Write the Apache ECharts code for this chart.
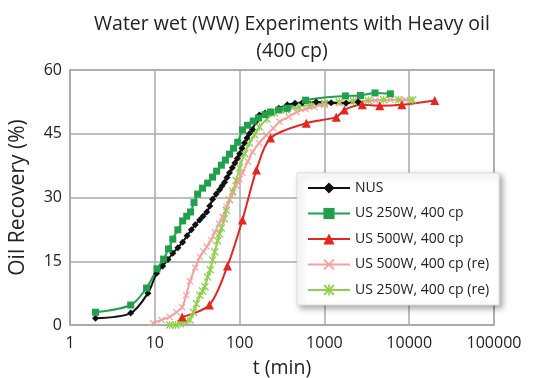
<!DOCTYPE html>
<html><head><meta charset="utf-8">
<script src="https://cdn.jsdelivr.net/npm/echarts@6/dist/echarts.min.js"></script>
<style>html,body{margin:0;padding:0;background:#fff}#c{width:538px;height:378px}</style>
</head><body><div id="c"></div>
<script>
const titleText = "Water wet (WW) Experiments with Heavy oil\n(400 cp)";
const xTicks = [1, 10, 100, 1000, 10000, 100000];
const yTicks = [0, 15, 30, 45, 60];
const seriesNames = ["NUS", "US 250W, 400 cp", "US 500W, 400 cp", "US 500W, 400 cp (re)", "US 250W, 400 cp (re)"];

const nusT = [2, 5.2, 8.3, 10.5, 12.4, 14.3, 16.3, 18.7, 21.3, 24, 27, 30, 33.8, 37, 41, 44.5, 48, 53, 58, 62, 66.5, 71, 76, 82, 88, 94, 100, 107, 114, 122, 130, 142, 155, 171, 200, 232, 290, 365, 450, 550, 800, 1200, 1800, 2500];
const nusV = [1.6, 2.8, 7.5, 12.2, 13.9, 15.4, 16.9, 18.2, 19.5, 21, 22.4, 23.6, 24.7, 25.6, 26.6, 28, 29.6, 30.8, 31.8, 32.7, 33.6, 34.7, 35.8, 37, 38.1, 39.2, 40.3, 41.6, 42.8, 44, 45, 46, 47.8, 49.4, 49.9, 50.2, 51, 51.8, 52.2, 52.3, 52.5, 52.3, 52.2, 52.5];

const us250T = [2, 5.2, 8, 10.6, 12.7, 14.5, 16.3, 18.7, 21.3, 23.8, 26.4, 29, 32, 36.6, 42, 48, 53.6, 61, 68, 76, 85, 95, 108, 124, 145, 167, 200, 232, 290, 365, 600, 1770, 2660, 3950, 6000];
const us250V = [3, 4.7, 8.7, 13.2, 15.5, 17.9, 20.2, 22.4, 24.5, 25.6, 26.6, 28.8, 30.8, 32.2, 33.4, 34.8, 36.2, 37.6, 38.8, 40.2, 41.6, 43, 45.9, 47, 48, 48.7, 49.5, 50.1, 50.6, 51, 52.9, 53.9, 54, 54.6, 54.4];

const us500T = [21, 44, 72, 108, 158, 232, 612, 1380, 1720, 2800, 4500, 8200, 20000];
const us500V = [1.9, 4.7, 13.9, 24.7, 36.5, 44, 47.5, 48.9, 50.6, 51.8, 51.6, 51.8, 52.8];

const us500reT = [9.5, 12, 15, 18, 21, 23.5, 26, 30, 34, 37.5, 41, 46, 51, 57, 63, 70, 76, 83, 91, 100, 108, 125, 142, 170, 207, 250, 295, 380, 470, 600, 760, 1000, 1500, 2500, 4000, 6000, 9000];
const us500reV = [0.5, 1.2, 1.9, 3, 4.2, 7, 10.3, 13.5, 16, 17.3, 18.4, 20, 21.8, 23.8, 25.5, 27.8, 29.5, 31, 32.8, 34.3, 35.8, 38.5, 40.7, 42.8, 44.7, 46.3, 47.8, 49, 50.1, 50.8, 51.3, 51.8, 52.2, 52.6, 52.8, 53, 53];

const us250reT = [15, 17.5, 20, 23, 26, 28.5, 31, 34, 36.6, 39, 42, 45, 48, 51, 55, 58, 61, 66, 70, 76, 83, 91, 100, 115, 131, 150, 172, 210, 258, 355, 500, 700, 1000, 1500, 2200, 3300, 5000, 7500, 11000];
const us250reV = [0, 0, 0.3, 0.8, 1.2, 3, 5, 7, 8, 9, 11.3, 13, 15.3, 17.2, 19.8, 21.5, 22.8, 25, 27, 29.5, 31.5, 34, 37, 40.3, 42.8, 44.8, 46.6, 48.5, 49.9, 50.6, 51.3, 51.8, 52.2, 52.5, 52.7, 52.8, 53, 53, 53];

const zip = (a, b) => a.map((t, i) => [t, b[i]]);
const crossPath = 'path://M0,1.2 L1.2,0 L5,3.8 L8.8,0 L10,1.2 L6.2,5 L10,8.8 L8.8,10 L5,6.2 L1.2,10 L0,8.8 L3.8,5 Z';
const starPath = 'path://M0,1.2 L1.2,0 L5,3.8 L8.8,0 L10,1.2 L6.2,5 L10,8.8 L8.8,10 L5,6.2 L1.2,10 L0,8.8 L3.8,5 Z M4.3,0 L5.7,0 L5.7,10 L4.3,10 Z';
const font = '"Open Sans", "Noto Sans", sans-serif';

function mk(name, data, color, symbol, size, mcolor) {
  return {
    name, type: 'line', data, smooth: 0.3,
    symbol, symbolSize: size, showSymbol: true,
    lineStyle: { color, width: 2 },
    itemStyle: { color: mcolor || color, borderWidth: 0 },
    emphasis: { disabled: true }, animation: false
  };
}

const chart = echarts.init(document.getElementById('c'), null, { renderer: 'canvas' });
chart.setOption({
  animation: false,
  backgroundColor: '#fff',
  title: {
    text: titleText, left: 287, top: 6, textAlign: 'center',
    textStyle: { fontFamily: font, fontSize: 19.5, fontWeight: 'normal', color: '#222', lineHeight: 27 }
  },
  grid: { left: 70, right: 44, top: 70, bottom: 53, show: true, borderColor: '#aaa', borderWidth: 1.5, backgroundColor: 'transparent', outerBoundsMode: 'none', containLabel: false },
  legend: {
    orient: 'vertical', left: 297, top: 173,
    data: seriesNames,
    itemWidth: 42, itemHeight: 14, itemGap: 11.5,
    padding: [8, 10, 8, 10],
    backgroundColor: '#fff', borderColor: '#ddd', borderWidth: 1,
    shadowBlur: 6, shadowColor: 'rgba(0,0,0,0.35)', shadowOffsetX: 3, shadowOffsetY: 3,
    textStyle: { fontFamily: font, fontSize: 14, color: '#222', padding: [0, 0, 0, 0] }
  },
  xAxis: {
    type: 'log', logBase: 10, min: 1, max: 100000,
    name: 't (min)', nameLocation: 'middle', nameGap: 33,
    nameTextStyle: { fontFamily: font, fontSize: 19.5, color: '#222' },
    axisLine: { show: true, lineStyle: { color: '#aaa', width: 1.5 } },
    axisTick: { show: false },
    splitLine: { show: true, lineStyle: { color: '#aaa', width: 1.5 } },
    minorSplitLine: { show: false },
    axisLabel: {
      fontFamily: font, fontSize: 16, color: '#222', margin: 10,
      formatter: v => { const r = Math.round(v); return xTicks.includes(r) ? String(r) : ''; }
    }
  },
  yAxis: {
    type: 'value', min: 0, max: 60, interval: 15,
    name: 'Oil Recovery (%)', nameLocation: 'middle', nameGap: 41,
    nameTextStyle: { fontFamily: font, fontSize: 21, color: '#222' },
    axisLine: { show: true, lineStyle: { color: '#aaa', width: 1.5 } },
    axisTick: { show: false },
    splitLine: { show: true, lineStyle: { color: '#aaa', width: 1.5 } },
    axisLabel: {
      fontFamily: font, fontSize: 16, color: '#222', margin: 8,
      formatter: v => yTicks.includes(v) ? String(v) : ''
    }
  },
  series: [
    mk(seriesNames[4], zip(us250reT, us250reV), '#8fd14f', starPath, 8),
    mk(seriesNames[3], zip(us500reT, us500reV), '#f7a0a0', crossPath, 7),
    mk(seriesNames[2], zip(us500T, us500V), '#e5261f', 'triangle', 9),
    mk(seriesNames[0], zip(nusT, nusV), '#111111', 'diamond', 7),
    mk(seriesNames[1], zip(us250T, us250V), '#1da34c', 'rect', 7, '#20a04c')
  ]
});
</script></body></html>
